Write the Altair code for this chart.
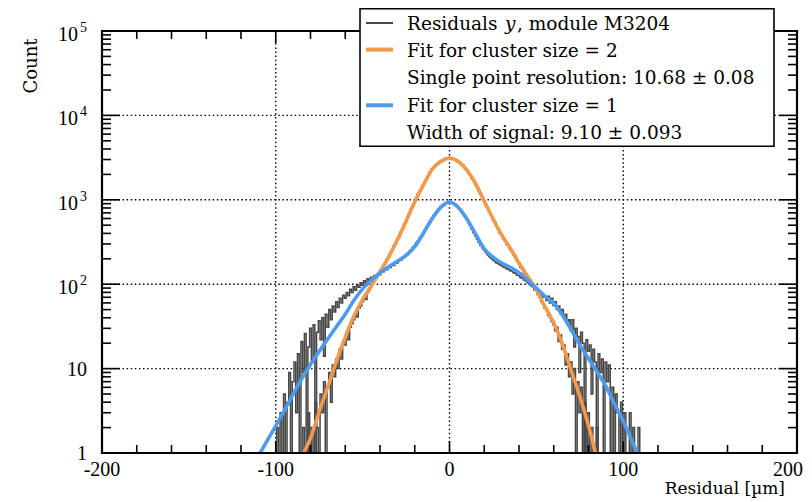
import altair as alt
import pandas as pd

# ---------------- data ----------------
# histogram, cluster size 1 (1 um bins, first bin centre -101)
h1_start = -101
h1_counts = [
    1, 1, 2, 1, 3, 1, 5, 1, 4, 9, 1, 7, 12, 3, 15, 1, 21, 9, 26, 1,
    18, 30, 12, 33, 1, 27, 37, 22, 40, 14, 44, 31, 50, 38,
    55, 47, 62, 53, 68, 60, 74, 68, 80, 73, 87, 80, 93, 85, 98, 92, 104, 97,
    110, 103, 116, 109, 121, 116, 127, 122, 134, 129, 141, 140, 150, 148, 160, 158,
    170, 167, 181, 178, 193, 192, 206, 208, 223, 230, 245, 255, 273, 287, 309, 328,
    353, 377, 409, 438, 479, 516, 563, 604, 653, 696, 746, 788, 831, 862, 896, 916,
    936, 940,
    938, 925, 900, 868, 828, 785, 738, 690, 640, 590, 540, 492, 448, 408, 372, 340,
    313, 290, 270, 252, 238, 224, 213, 203, 195, 188, 180, 176, 170, 166, 160, 158,
    152, 150, 144, 143, 137, 135, 128, 127, 120, 118, 112, 110, 104, 101, 96, 93,
    88, 86, 80, 78, 74, 70, 70, 64, 72, 60, 68, 56, 62, 50, 55, 45, 50, 40, 44, 35,
    38, 28, 38, 18, 30, 24, 9, 27, 20, 1, 22, 16, 19, 5, 17, 12, 1, 15, 9, 13,
    1, 12, 7, 11, 1, 6, 1, 5, 3, 1, 4, 1, 3, 1, 1, 3, 1, 2, 1, 1, 2, 1,
]
# histogram, cluster size 2 (1 um bins, first bin centre -87)
h2_start = -87
h2_counts = [
    1, 1, 1, 2, 1, 1, 3, 1, 2, 1, 4, 2, 1, 5, 3, 7, 1, 6, 9, 4,
    11, 8, 13, 10, 17, 13, 21, 19,
    27, 22, 31, 34, 38, 44, 41, 52, 55, 62, 70, 66, 80, 86, 94, 102, 112, 119, 130, 141,
    150, 166, 176, 197, 210, 236, 252, 284, 302, 340, 366, 414, 450, 510, 552, 628,
    682, 780, 850, 962, 1040, 1170, 1260, 1400, 1490, 1650, 1780, 1960, 2110, 2310,
    2420, 2580, 2670, 2800, 2850, 2960, 3000, 3080, 3090, 3180,
    3120, 3060, 2990, 2940, 2830, 2780, 2640, 2560, 2390, 2270,
    2100, 1980, 1790, 1680, 1520, 1420, 1270, 1180, 1050, 975,
    865, 800, 712, 660, 584, 548, 486, 452, 405, 386,
    346, 330, 296, 286, 258, 248, 224, 214, 190, 180,
    158, 154, 136, 133, 118, 115, 100, 98, 86, 86,
    75, 70, 62, 58, 52, 49, 43, 40, 36, 33,
    28, 31, 21, 25, 17, 19, 11, 15, 8, 12,
    5, 10, 1, 7, 3, 6, 1, 4, 1, 3,
    1, 2, 1, 1, 2, 1, 1,
]
# fit for cluster size = 2 (orange)
fit2_x = [-84, -80, -75, -70, -65, -60, -55, -50, -45, -40, -35, -30, -25, -20, -15, -10, -5, 0,
          5, 10, 15, 20, 25, 30, 35, 40, 45, 50, 55, 60, 65, 70, 75, 80, 84]
fit2_y = [1, 1.5, 3.1, 6.1, 12.3, 23.5, 42, 66, 96, 140, 210, 336, 558, 950, 1500, 2300, 2850, 3120,
          2850, 2250, 1560, 960, 600, 385, 265, 178, 123, 86, 54, 35, 19.4, 9.5, 4.7, 2.1, 1]
# fit for cluster size = 1 (blue)
fit1_x = [-109, -105, -100, -95, -90, -85, -80, -75, -70, -65, -60, -55, -50, -45, -40, -35, -30,
          -25, -20, -15, -10, -5, 0, 5, 10, 15, 20, 25, 30, 35, 40, 45, 50, 55, 60, 65, 70, 75,
          80, 85, 90, 95, 100, 105, 108]
fit1_y = [1, 1.39, 2.1, 3.2, 4.95, 7.6, 11.2, 16, 22.6, 31.6, 44, 64.5, 88, 111, 136, 161, 187,
          219, 278, 402, 597, 810, 940, 810, 593, 393, 263, 209, 178, 158, 137, 111, 90, 72, 59,
          43, 29, 19, 13.2, 9.1, 6.2, 3.8, 2.4, 1.39, 1]

# axes
x_labels = ["-200", "-100", "0", "100"]
x_label_vals = [-200, -100, 0, 100]
x_last_label = "200"
x_grid = [-100, 0, 100]
x_minor = [-180, -160, -140, -120, -80, -60, -40, -20, 20, 40, 60, 80, 120, 140, 160, 180]
y_grid = [10, 100, 1000, 10000]
y_minor = [m * d for d in [1, 10, 100, 1000, 10000] for m in range(2, 10)]
y_plain_vals = [1, 10]
y_plain_text = ["1", "10"]
y_pow_vals = [100, 1000, 10000, 100000]
y_pow_exp = ["2", "3", "4", "5"]

# ---------------- tables ----------------
hist = pd.DataFrame({
    "x": [h1_start + i for i in range(len(h1_counts))] + [h2_start + i for i in range(len(h2_counts))],
    "y": h1_counts + h2_counts,
    "s": ["c1"] * len(h1_counts) + ["c2"] * len(h2_counts),
})
fit2 = pd.DataFrame({"x": fit2_x, "y": fit2_y})
fit1 = pd.DataFrame({"x": fit1_x, "y": fit1_y})
one = pd.DataFrame({"k": [0]})

W, H = 695, 422
GREY = "#474747"
ORANGE = "#F2994A"
BLUE = "#4C9BF0"
SERIF = "DejaVu Serif"
NUMF = "Liberation Serif"

xs = alt.Scale(domain=[-200, 200], nice=False, zero=False)
ys = alt.Scale(type="log", domain=[1, 100000], nice=False)


def X():
    return alt.X("x:Q", scale=xs, axis=None)


def Y():
    return alt.Y("y:Q", scale=ys, axis=None)


layers = []
# grid
layers.append(alt.Chart(pd.DataFrame({"x": x_grid})).mark_rule(
    color="black", strokeWidth=1.4, strokeDash=[1.5, 2.6]).encode(
    x=X(), y=alt.value(0), y2=alt.value(H)))
layers.append(alt.Chart(pd.DataFrame({"y": y_grid})).mark_rule(
    color="black", strokeWidth=1.4, strokeDash=[1.5, 2.6]).encode(
    y=Y(), x=alt.value(0), x2=alt.value(W)))
# histograms
layers.append(alt.Chart(hist).mark_line(
    interpolate="step", color=GREY, strokeWidth=1.5, clip=True).encode(
    x=X(), y=Y(), detail="s:N"))
# fits
layers.append(alt.Chart(fit2).mark_line(
    interpolate="monotone", color=ORANGE, strokeWidth=3.6, clip=True).encode(x=X(), y=Y()))
layers.append(alt.Chart(fit1).mark_line(
    interpolate="monotone", color=BLUE, strokeWidth=3.6, clip=True).encode(x=X(), y=Y()))

# ticks
tk = dict(color="black", strokeWidth=1.6)
xm = pd.DataFrame({"x": x_minor})
xM = pd.DataFrame({"x": x_grid})
ym = pd.DataFrame({"y": y_minor})
yM = pd.DataFrame({"y": y_grid})
layers.append(alt.Chart(xm).mark_rule(**tk).encode(x=X(), y=alt.value(H), y2=alt.value(H - 8)))
layers.append(alt.Chart(xm).mark_rule(**tk).encode(x=X(), y=alt.value(0), y2=alt.value(8)))
layers.append(alt.Chart(xM).mark_rule(**tk).encode(x=X(), y=alt.value(H), y2=alt.value(H - 12)))
layers.append(alt.Chart(xM).mark_rule(**tk).encode(x=X(), y=alt.value(0), y2=alt.value(12)))
layers.append(alt.Chart(ym).mark_rule(**tk).encode(y=Y(), x=alt.value(0), x2=alt.value(9)))
layers.append(alt.Chart(ym).mark_rule(**tk).encode(y=Y(), x=alt.value(W), x2=alt.value(W - 9)))
layers.append(alt.Chart(yM).mark_rule(**tk).encode(y=Y(), x=alt.value(0), x2=alt.value(18)))
layers.append(alt.Chart(yM).mark_rule(**tk).encode(y=Y(), x=alt.value(W), x2=alt.value(W - 18)))

# frame
layers.append(alt.Chart(one).mark_rect(filled=False, stroke="black", strokeWidth=2.2).encode(
    x=alt.value(0), x2=alt.value(W), y=alt.value(0), y2=alt.value(H)))

# tick labels
layers.append(alt.Chart(pd.DataFrame({"x": x_label_vals, "t": x_labels})).mark_text(
    font=NUMF, fontSize=20, align="center", baseline="alphabetic", color="black").encode(
    x=X(), y=alt.value(H + 23), text="t:N"))
layers.append(alt.Chart(one).mark_text(
    font=NUMF, fontSize=20, align="right", baseline="alphabetic", color="black",
    text=x_last_label).encode(x=alt.value(W + 6), y=alt.value(H + 23)))
layers.append(alt.Chart(pd.DataFrame({"y": y_plain_vals, "t": y_plain_text})).mark_text(
    font=NUMF, fontSize=20, align="right", baseline="alphabetic", dy=7, color="black").encode(
    y=Y(), x=alt.value(-15), text="t:N"))
layers.append(alt.Chart(pd.DataFrame({"y": y_pow_vals, "t": ["10"] * 4})).mark_text(
    font=NUMF, fontSize=20, align="right", baseline="alphabetic", dy=10, color="black").encode(
    y=Y(), x=alt.value(-24), text="t:N"))
layers.append(alt.Chart(pd.DataFrame({"y": y_pow_vals, "t": y_pow_exp})).mark_text(
    font=NUMF, fontSize=14, align="right", baseline="alphabetic", dy=1, color="black").encode(
    y=Y(), x=alt.value(-15), text="t:N"))

# axis titles
layers.append(alt.Chart(one).mark_text(
    font=SERIF, fontSize=18, angle=270, align="center", baseline="middle", color="black",
    text="Count").encode(x=alt.value(-70), y=alt.value(35)))
layers.append(alt.Chart(one).mark_text(
    font=SERIF, fontSize=17, align="right", baseline="alphabetic", color="black",
    text="Residual [µm]").encode(x=alt.value(683), y=alt.value(462.5)))

# legend
layers.append(alt.Chart(one).mark_rect(fill="white", stroke="black", strokeWidth=1.6).encode(
    x=alt.value(258), x2=alt.value(672), y=alt.value(-22.4), y2=alt.value(115.3)))
for yy, col, sw in [(-8, GREY, 2), (18.6, ORANGE, 4), (74.3, BLUE, 4)]:
    layers.append(alt.Chart(one).mark_rule(color=col, strokeWidth=sw).encode(
        x=alt.value(264), x2=alt.value(291), y=alt.value(yy)))
leg_texts = [
    (305, -1.4, "Residuals", "normal"),
    (403, -1.4, "y", "italic"),
    (415, -1.4, ", module M3204", "normal"),
    (305, 26.0, "Fit for cluster size = 2", "normal"),
    (305, 53.3, "Single point resolution: 10.68 ± 0.08", "normal"),
    (305, 81.0, "Fit for cluster size = 1", "normal"),
    (305, 107.6, "Width of signal: 9.10 ± 0.093", "normal"),
]
for lx, ly, txt, st in leg_texts:
    layers.append(alt.Chart(one).mark_text(
        font=SERIF, fontSize=18.5, fontStyle=st, align="left", baseline="alphabetic",
        color="black", text=txt).encode(x=alt.value(lx), y=alt.value(ly)))

chart = alt.layer(*layers).properties(
    width=W, height=H,
    padding={"left": 94, "top": 23, "right": 7, "bottom": 47},
    autosize=alt.AutoSizeParams(type="none"),
).configure_view(stroke=None)

chart.save("out.html", embed_options={"renderer": "svg", "actions": False})
